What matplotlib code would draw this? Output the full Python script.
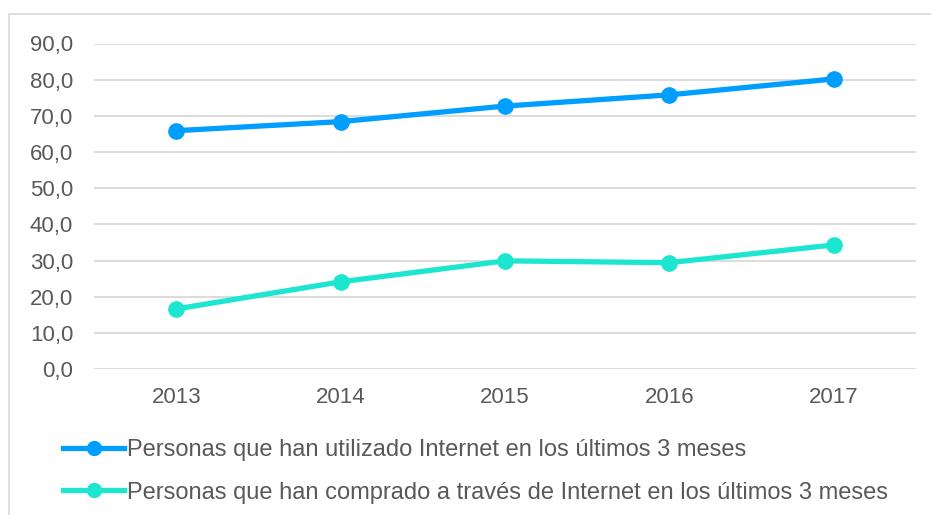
import numpy as np
import matplotlib.pyplot as plt
from matplotlib.patches import Rectangle
from matplotlib.lines import Line2D

plt.rcParams['font.family'] = ['Liberation Sans', 'DejaVu Sans']

anios = ["2013", "2014", "2015", "2016", "2017"]
utilizado = [65.9, 68.4, 72.7, 75.8, 80.2]
comprado = [16.6, 24.1, 29.9, 29.4, 34.3]
etiquetas = ["Personas que han utilizado Internet en los últimos 3 meses",
             "Personas que han comprado a través de Internet en los últimos 3 meses"]
colores = ["#009FFF", "#1DE6D0"]

fig = plt.figure(figsize=(9.31, 5.15), dpi=100)
W, H = 931, 515

# marco del grafico (recortado a derecha y abajo)
fig.patches.append(Rectangle((9/W, -0.1), 1.1, 1 - 14/H + 0.1, transform=fig.transFigure,
                             fill=False, edgecolor="#D9D9D9", lw=1.2))

ax = fig.add_axes([94/W, 1 - 369/H, (916-94)/W, (369-43.5)/H])
x = np.arange(len(anios))
for serie, col in zip([utilizado, comprado], colores):
    ax.plot(x, serie, "-o", color=col, lw=3.8, ms=11, zorder=3)

ax.set_xlim(-0.5, 4.5)
ax.set_ylim(0, 90)
ax.set_yticks(np.arange(0, 91, 10))
ax.set_yticklabels([f"{v:.1f}".replace(".", ",") for v in np.arange(0, 91, 10)])
ax.set_xticks(x)
ax.set_xticklabels(anios)
ax.grid(axis="y", color="#D9D9D9", lw=1.3)
for s in ax.spines.values():
    s.set_visible(False)
ax.tick_params(length=0, labelsize=16, labelcolor="#595959")
ax.tick_params(axis="y", pad=15)
ax.tick_params(axis="x", pad=13)

handles = [Line2D([0], [0], color=c, lw=3.8, marker="o", ms=10) for c in colores]
fig.legend(handles, etiquetas, loc="upper left", bbox_to_anchor=(63/W, 1 - 439/H),
           frameon=False, fontsize=17, labelcolor="#595959", handlelength=2.6,
           handletextpad=0.1, labelspacing=0.87, borderaxespad=0, borderpad=0)

fig.savefig("out.png", dpi=100)
